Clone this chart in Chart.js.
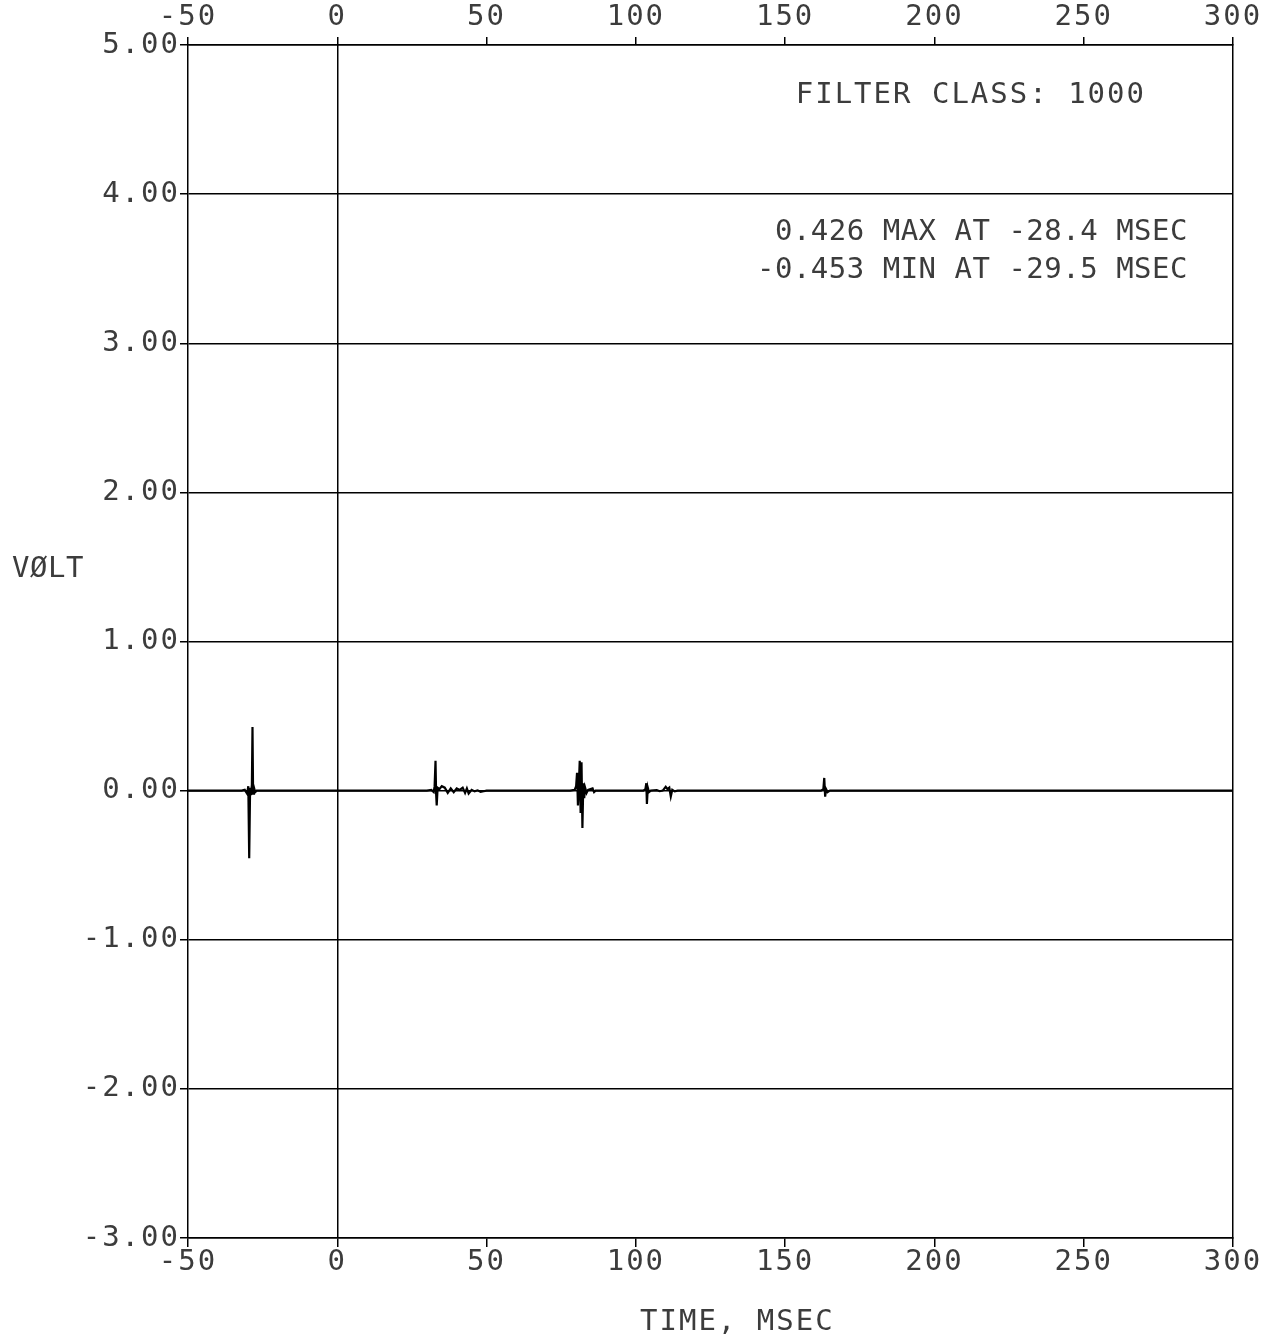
<!DOCTYPE html>
<html>
<head>
<meta charset="utf-8">
<script src="https://cdn.jsdelivr.net/npm/chart.js@4.4.1/dist/chart.umd.min.js"></script>
<style>
  html, body { margin: 0; padding: 0; background: #fff; }
  canvas { display: block; }
</style>
</head>
<body>
<canvas id="voltChart" width="1267" height="1334"></canvas>
<script>
// Trace: time (msec) and volt, baseline is flat between the bursts
const timeMs = [
  -50, -32, -31, -30.2, -29.8, -29.5, -29.2, -28.9, -28.6, -28.4, -28.2, -27.9, -27.5, -27,
  30, 31.5, 32.3, 32.6, 32.9, 33.1, 33.3, 33.6, 34.2, 35, 36, 37, 38, 39, 40, 41, 42, 42.8,
  43.4, 44, 45, 46, 47, 48, 49, 50,
  78, 79.5, 80, 80.3, 80.6, 80.9, 81.2, 81.5, 81.8, 82.1, 82.4, 82.7, 83, 83.5, 84, 85.5, 86, 86.5,
  102.5, 103.2, 103.5, 103.7, 104, 104.4, 105, 107, 108, 109, 110, 110.6, 111.2, 111.7, 112.2, 113, 114,
  162, 162.8, 163.1, 163.4, 163.7, 164.2, 165,
  300
];
const volts = [
  0, 0, 0.005, -0.02, 0.03, -0.453, 0.02, -0.03, 0.04, 0.426, -0.02, 0.02, -0.01, 0,
  0, 0.005, -0.01, 0.03, 0.20, -0.02, -0.10, 0.02, 0.01, 0.03, 0.02, -0.015, 0.015, -0.01, 0.015, 0.005, 0.02, -0.015,
  0.015, -0.02, 0.005, -0.005, 0.002, -0.008, -0.004, 0,
  0, 0.005, 0.03, 0.12, -0.10, 0.03, 0.20, -0.15, 0.19, -0.25, 0.05, -0.05, 0.02, -0.015, 0.005, 0.015, -0.01, 0,
  0, 0.01, 0.05, -0.09, 0.02, -0.01, 0, 0.003, -0.004, 0, 0.026, 0.01, 0.02, -0.04, 0.005, -0.005, 0,
  0, 0.01, 0.085, -0.04, 0.01, -0.01, 0,
  0
];

const xTicks = [-50, 0, 50, 100, 150, 200, 250, 300];
const yTicks = [-3, -2, -1, 0, 1, 2, 3, 4, 5];

const INK = '#000';
const TEXT = '#3c3c3c';
const FONT = 'DejaVu Sans Mono';

const points = timeMs.map((t, i) => ({ x: t, y: volts[i] }));

// plotter-style spacing for the tick labels, plus the free text on the sheet
const notesPlugin = {
  id: 'notes',
  beforeDraw(chart) {
    chart.ctx.letterSpacing = '2px';
  },
  afterDraw(chart) {
    const ctx = chart.ctx;
    ctx.save();
    ctx.fillStyle = TEXT;
    ctx.font = '29px "' + FONT + '"';
    ctx.textBaseline = 'alphabetic';

    ctx.letterSpacing = '0.5px';
    ctx.textAlign = 'left';
    ctx.fillText('VØLT', 12, 577);

    ctx.letterSpacing = '2px';
    ctx.fillText('TIME, MSEC', 640, 1330);

    ctx.textAlign = 'right';
    ctx.fillText('FILTER CLASS: 1000', 1146, 103);
    ctx.letterSpacing = '0.5px';
    ctx.fillText('0.426 MAX AT -28.4 MSEC', 1188, 240);
    ctx.fillText('-0.453 MIN AT -29.5 MSEC', 1188, 278);
    ctx.restore();
    ctx.letterSpacing = '0px';
  }
};

const tickFont = { family: FONT, size: 29 };

new Chart(document.getElementById('voltChart'), {
  type: 'line',
  data: {
    datasets: [{
      data: points,
      borderColor: INK,
      borderWidth: 2.2,
      pointRadius: 0,
      tension: 0,
      fill: false
    }]
  },
  options: {
    responsive: false,
    animation: false,
    layout: { padding: 0 },
    plugins: {
      legend: { display: false },
      tooltip: { enabled: false }
    },
    scales: {
      x: {
        type: 'linear',
        position: 'bottom',
        min: -50,
        max: 300,
        afterBuildTicks: s => { s.ticks = xTicks.map(v => ({ value: v })); },
        ticks: { font: tickFont, color: TEXT, padding: -2, maxRotation: 0, autoSkip: false, callback: v => String(v) },
        grid: {
          color: c => (c.tick && c.tick.value === 0) ? INK : 'rgba(0,0,0,0)',
          tickColor: INK,
          lineWidth: 1.5,
          tickLength: 9
        },
        border: { color: INK, width: 1.5 },
        afterFit: s => { s.height = 96; }
      },
      xTop: {
        type: 'linear',
        position: 'top',
        min: -50,
        max: 300,
        afterBuildTicks: s => { s.ticks = xTicks.map(v => ({ value: v })); },
        ticks: { font: tickFont, color: TEXT, padding: 2, maxRotation: 0, autoSkip: false, callback: v => String(v) },
        grid: { drawOnChartArea: false, tickColor: INK, lineWidth: 1.5, tickLength: 8 },
        border: { color: INK, width: 1.5 },
        afterFit: s => { s.height = 45; }
      },
      y: {
        type: 'linear',
        position: 'left',
        min: -3,
        max: 5,
        afterBuildTicks: s => { s.ticks = yTicks.map(v => ({ value: v })); },
        ticks: { font: tickFont, color: TEXT, padding: 0, callback: v => v.toFixed(2) },
        grid: { color: INK, lineWidth: 1.5, tickLength: 8 },
        border: { color: INK, width: 1.5 },
        afterFit: s => { s.width = 188; }
      },
      yRight: {
        type: 'linear',
        position: 'right',
        min: -3,
        max: 5,
        ticks: { display: false },
        grid: { drawOnChartArea: false, drawTicks: false },
        border: { color: INK, width: 1.5 },
        afterFit: s => { s.width = 34; }
      }
    }
  },
  plugins: [notesPlugin]
});
</script>
</body>
</html>
